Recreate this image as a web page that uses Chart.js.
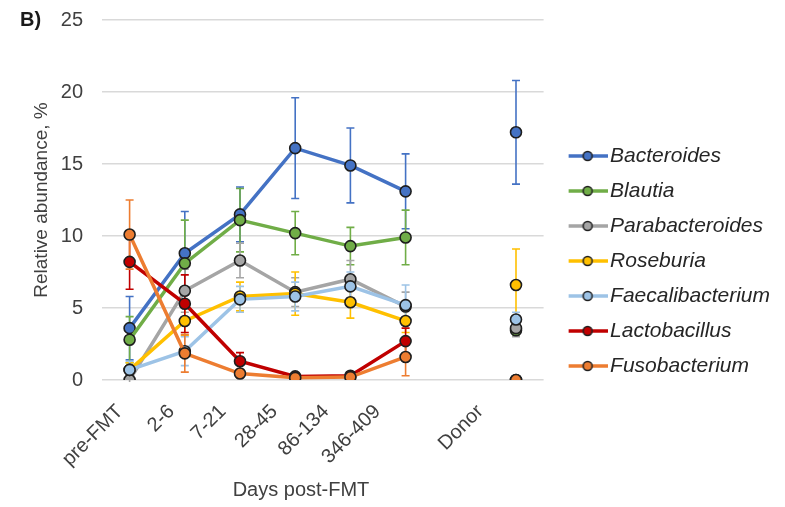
<!DOCTYPE html>
<html>
<head>
<meta charset="utf-8">
<script src="https://cdn.jsdelivr.net/npm/chart.js@4.4.1/dist/chart.umd.min.js"></script>
<style>
html,body{margin:0;padding:0;background:#fff;}
#wrap{width:785px;height:507px;position:relative;}
</style>
</head>
<body>
<div id="wrap"><canvas id="c" width="785" height="507"></canvas></div>
<script>
// ---- data ----
const categories = ['pre-FMT','2-6','7-21','28-45','86-134','346-409','','Donor'];
const yTicks = [0,5,10,15,20,25];
const seriesNames = ['Bacteroides','Blautia','Parabacteroides','Roseburia','Faecalibacterium','Lactobacillus','Fusobacterium'];
const bacteroides      = [3.6, 8.8, 11.5, 16.1, 14.9, 13.1, null, 17.2];
const bacteroidesErr   = [2.2, 2.9, 1.9, 3.5, 2.6, 2.6, null, 3.6];
const blautia          = [2.8, 8.1, 11.1, 10.2, 9.3, 9.9, null, 3.45];
const blautiaErr       = [1.6, 3.0, 2.2, 1.5, 1.3, 1.9, null, 0.4];
const parabacteroides  = [0.0, 6.2, 8.3, 6.1, 7.0, 5.1, null, 3.6];
const parabacteroidesErr=[0.3, 1.5, 1.2, 1.0, 1.3, 1.0, null, 0.6];
const roseburia        = [0.7, 4.1, 5.8, 6.0, 5.4, 4.1, null, 6.6];
const roseburiaErr     = [0.5, 1.0, 1.0, 1.5, 1.1, 0.8, null, 2.5];
const faecalibacterium = [0.7, 2.0, 5.6, 5.8, 6.5, 5.2, null, 4.2];
const faecalibacteriumErr=[0.6, 1.0, 0.9, 1.0, 1.0, 1.4, null, 0.5];
const lactobacillus    = [8.2, 5.3, 1.3, 0.25, 0.3, 2.7, null, 0.0];
const lactobacillusErr = [1.9, 2.0, 0.6, 0.1, 0.2, 0.9, null, 0.0];
const fusobacterium    = [10.1, 1.85, 0.45, 0.15, 0.2, 1.6, null, 0.0];
const fusobacteriumErr = [2.4, 1.3, 0.3, 0.1, 0.1, 1.3, null, 0.0];

const seriesValues = [bacteroides, blautia, parabacteroides, roseburia, faecalibacterium, lactobacillus, fusobacterium];
const seriesErrors = [bacteroidesErr, blautiaErr, parabacteroidesErr, roseburiaErr, faecalibacteriumErr, lactobacillusErr, fusobacteriumErr];
const seriesColors = ['#4472C4','#70AD47','#A5A5A5','#FFC000','#9DC3E6','#C00000','#ED7D31'];

const FONT = "'Liberation Sans', Arial, sans-serif";
const TEXT = '#404040';

function makeIcon(color){
  const c = document.createElement('canvas');
  c.width = 58; c.height = 14;
  const g = c.getContext('2d');
  g.strokeStyle = color; g.lineWidth = 3.5;
  g.beginPath(); g.moveTo(19, 7); g.lineTo(58, 7); g.stroke();
  g.beginPath(); g.arc(38, 7, 4.5, 0, Math.PI*2);
  g.fillStyle = color; g.fill();
  g.lineWidth = 1.5; g.strokeStyle = '#1e1e1e'; g.stroke();
  return c;
}

const datasets = seriesNames.map((name, i) => ({
  label: name,
  data: seriesValues[i],
  errors: seriesErrors[i],
  xAxisID: 'x',
  order: -i,
  borderColor: seriesColors[i],
  backgroundColor: seriesColors[i],
  borderWidth: 3.5,
  pointRadius: 5.5,
  pointBorderWidth: 1.6,
  pointBorderColor: '#1e1e1e',
  pointBackgroundColor: seriesColors[i],
  tension: 0,
  spanGaps: false
}));

const errorBars = {
  id: 'errorBars',
  beforeDatasetsDraw(chart){
    const ctx = chart.ctx;
    const ys = chart.scales.y;
    ctx.save();
    ctx.beginPath();
    ctx.rect(chart.chartArea.left, chart.chartArea.top - 2, chart.chartArea.width, chart.chartArea.height + 4);
    ctx.clip();
    chart.data.datasets.forEach((ds, i) => {
      const meta = chart.getDatasetMeta(i);
      ctx.strokeStyle = ds.borderColor;
      ctx.lineWidth = 1.6;
      ds.data.forEach((v, j) => {
        const e = ds.errors[j];
        if (v == null || e == null || e === 0) return;
        const x = meta.data[j].x;
        const y1 = ys.getPixelForValue(v + e);
        const y2 = ys.getPixelForValue(v - e);
        ctx.beginPath();
        ctx.moveTo(x, y1); ctx.lineTo(x, y2);
        ctx.moveTo(x - 4, y1); ctx.lineTo(x + 4, y1);
        ctx.moveTo(x - 4, y2); ctx.lineTo(x + 4, y2);
        ctx.stroke();
      });
    });
    ctx.restore();
  }
};

const extraText = {
  id: 'extraText',
  afterDraw(chart){
    const ctx = chart.ctx;
    ctx.save();
    ctx.fillStyle = '#1a1a1a';
    ctx.font = "bold 20px " + FONT;
    ctx.textBaseline = 'middle';
    ctx.textAlign = 'left';
    ctx.fillText('B)', 20, 20);
    ctx.fillStyle = TEXT;
    ctx.font = "20px " + FONT;
    ctx.textAlign = 'center';
    ctx.fillText('Days post-FMT', 301, 490);
    ctx.restore();
  }
};

new Chart(document.getElementById('c'), {
  type: 'line',
  data: { labels: categories, datasets },
  plugins: [errorBars, extraText],
  options: {
    responsive: false,
    animation: false,
    layout: { padding: { top: 20, bottom: 5, left: 0, right: 5 } },
    plugins: {
      tooltip: { enabled: false },
      legend: {
        position: 'right',
        align: 'center',
        maxWidth: 400,
        labels: {
          usePointStyle: true,
          pointStyleWidth: 42,
          padding: 14,
          color: '#262626',
          font: { family: FONT, size: 21, style: 'italic' },
          generateLabels(chart){
            return chart.data.datasets.map((ds, i) => ({
              text: ds.label,
              pointStyle: makeIcon(ds.borderColor),
              fillStyle: ds.borderColor,
              strokeStyle: ds.borderColor,
              lineWidth: 0,
              hidden: false,
              datasetIndex: i,
              fontColor: '#262626'
            }));
          }
        }
      }
    },
    scales: {
      x: {
        type: 'category',
        position: 'bottom',
        offset: true,
        display: false
      },
      xLabels: {
        type: 'linear',
        position: 'bottom',
        min: -0.35, max: 8.23,
        afterBuildTicks(s){ s.ticks = categories.map((c, i) => ({ value: i })); },
        grid: { display: false, drawTicks: false },
        border: { display: false },
        ticks: {
          autoSkip: false, minRotation: 45, maxRotation: 45,
          padding: 20, color: TEXT,
          font: { family: FONT, size: 20 },
          callback: (v) => categories[v]
        },
        afterFit(s){ s.height = 122; s.paddingLeft = 0; s.paddingRight = 0; }
      },
      y: {
        min: 0, max: 25,
        afterBuildTicks(s){ s.ticks = yTicks.map(v => ({ value: v })); },
        grid: { color: '#d9d9d9', lineWidth: 1.5, drawTicks: false },
        border: { display: false },
        ticks: { padding: 19, color: TEXT, font: { family: FONT, size: 20 } },
        title: {
          display: true, text: 'Relative abundance, %', color: TEXT,
          font: { family: FONT, size: 19 }, padding: { top: 30, bottom: 0 }
        },
        afterFit(s){ s.width = 102; s.paddingTop = 10; s.paddingBottom = 10; }
      }
    }
  }
});
</script>
</body>
</html>
